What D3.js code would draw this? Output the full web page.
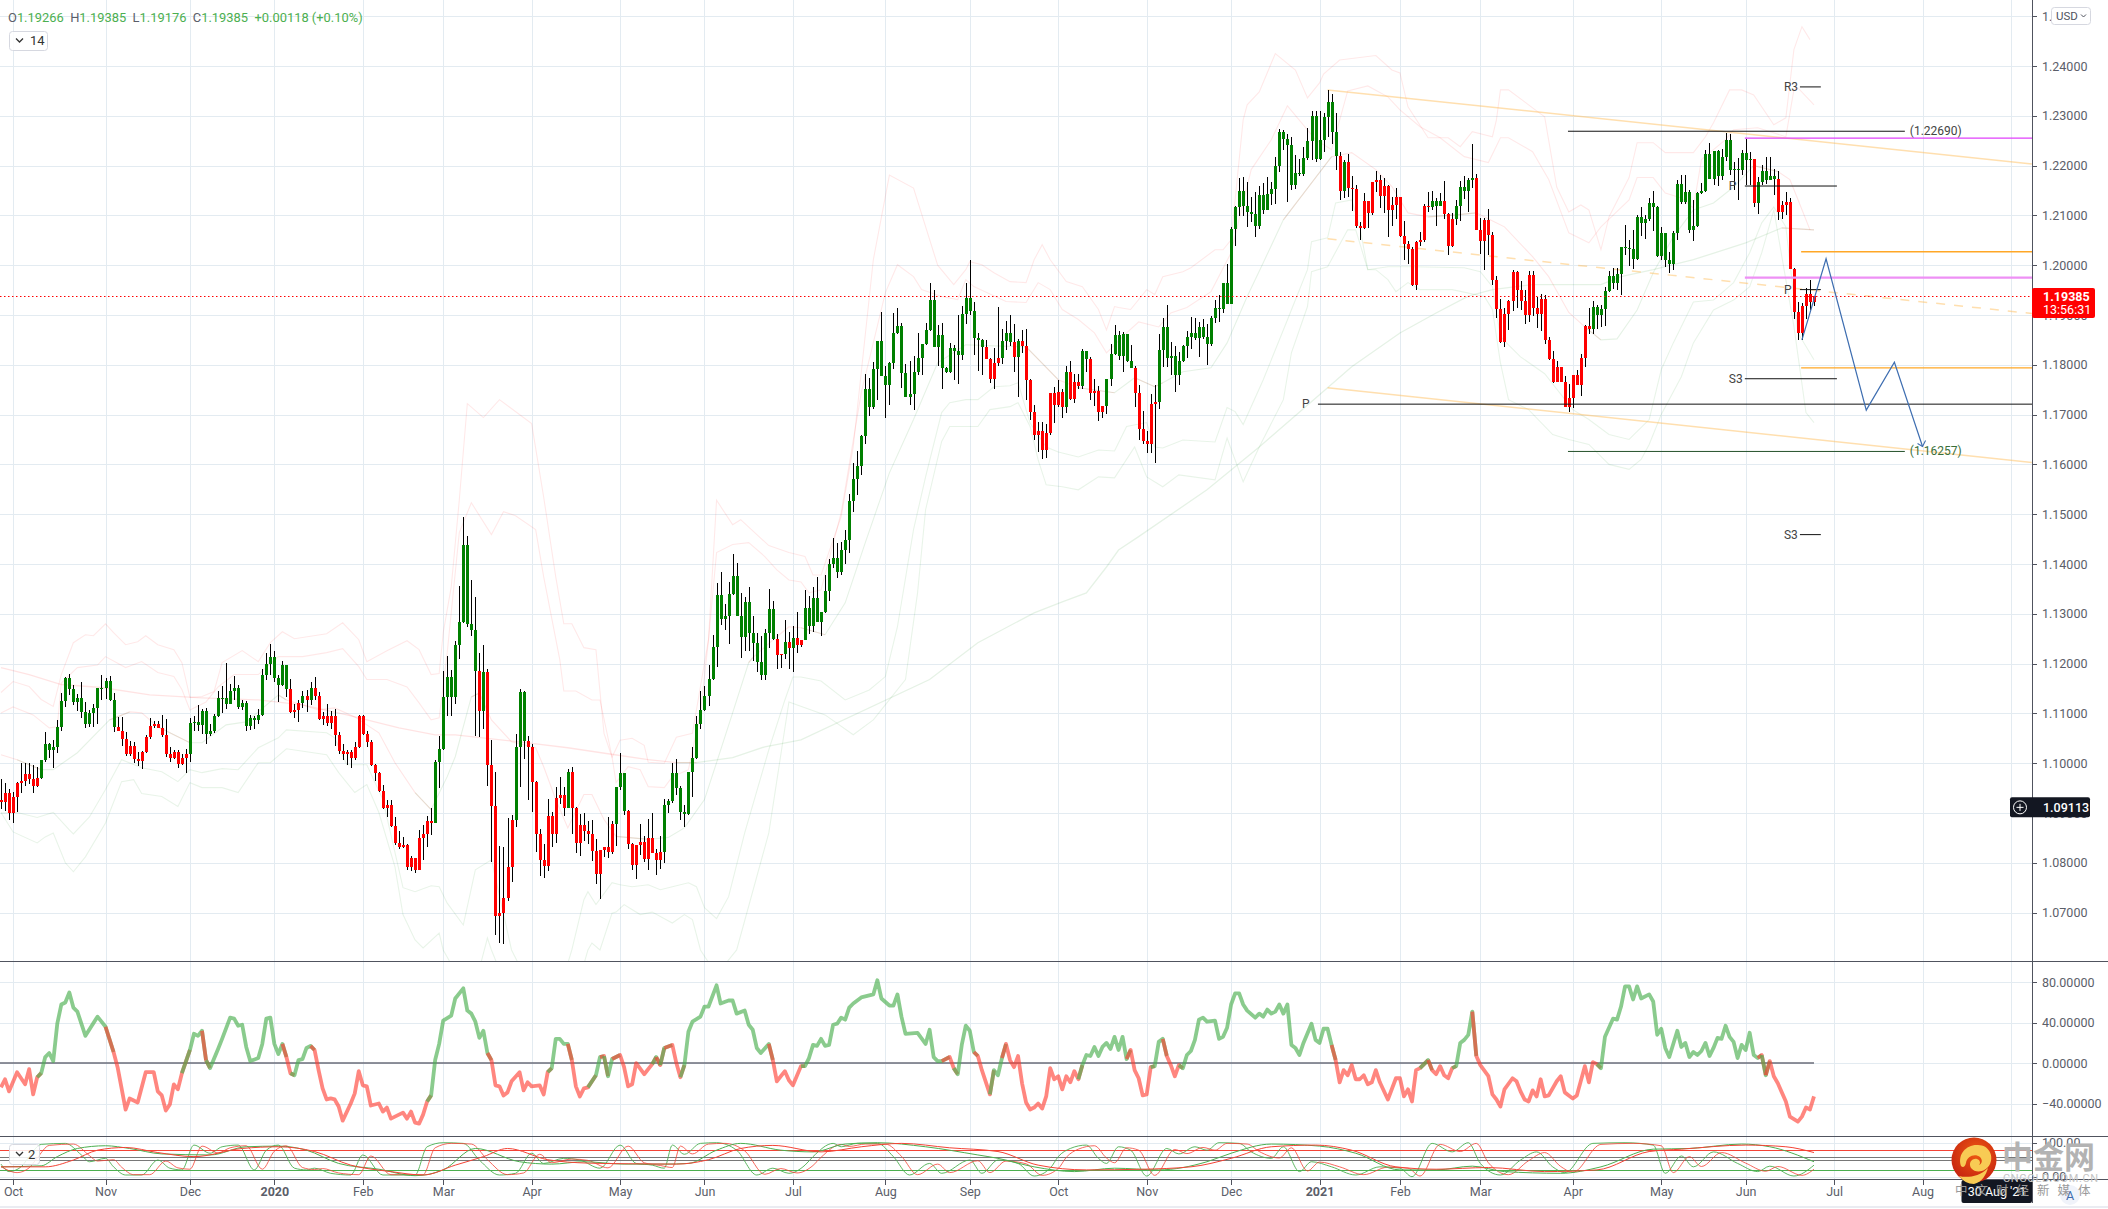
<!DOCTYPE html>
<html><head><meta charset="utf-8">
<script src="https://cdnjs.cloudflare.com/ajax/libs/d3/7.8.5/d3.min.js"></script>
<style>
html,body{margin:0;padding:0;background:#fff;overflow:hidden}
svg{display:block}
text{font-family:Roboto,"Liberation Sans",sans-serif}
</style></head><body><div id="chart"></div>
<script>
// Daily EUR/USD candles, prices in pips (1.0000 = 10000)
const closes=[10922,10941,10899,10933,10961,10965,10979,10969,10955,10971,
11006,11039,11027,11033,11073,11125,11171,11149,11123,11131,
11103,11079,11101,11111,11151,11151,11165,11127,11073,11065,
11049,11019,11035,11009,11005,11023,11053,11075,11079,11071,
11057,11019,11011,11023,10999,11011,11019,11081,11083,11077,
11105,11059,11065,11095,11131,11131,11119,11145,11151,11113,
11121,11075,11091,11087,11097,11177,11199,11213,11171,11157,
11197,11149,11103,11107,11121,11135,11127,11151,11135,11089,
11095,11081,11095,11057,11025,11019,11023,11011,11033,11095,
11059,11043,10997,10981,10945,10911,10917,10873,10839,10831,
10835,10791,10809,10785,10849,10857,10883,10880,11003,11029,
11133,11173,11133,11237,11283,11439,11279,11267,11185,11105,
11183,10997,10915,10693,10699,10729,10791,10885,11033,11143,
11045,11033,10963,10857,10805,10793,10893,10857,10931,10937,
10911,10983,10911,10839,10875,10863,10857,10823,10777,10825,
10831,10821,10877,10953,10981,10905,10837,10795,10835,10841,
10807,10849,10819,10805,10821,10917,10925,10981,10951,10903,
10897,10983,11011,11079,11107,11135,11169,11233,11337,11289,
11295,11339,11375,11295,11253,11323,11261,11241,11203,11177,
11261,11309,11249,11217,11219,11243,11231,11251,11237,11247,
11311,11275,11331,11283,11303,11345,11401,11413,11383,11429,
11449,11527,11571,11597,11657,11751,11715,11791,11847,11777,
11759,11803,11863,11877,11783,11735,11741,11785,11813,11841,
11869,11931,11835,11859,11793,11785,11833,11827,11819,11903,
11935,11909,11853,11849,11835,11811,11771,11803,11813,11847,
11863,11845,11815,11847,11837,11769,11705,11659,11667,11629,
11663,11743,11719,11745,11715,11785,11731,11765,11757,11827,
11811,11743,11747,11705,11717,11771,11821,11859,11817,11861,
11807,11793,11743,11671,11647,11641,11721,11725,11829,11875,
11813,11817,11779,11807,11837,11855,11863,11853,11875,11855,
11841,11893,11915,11913,11965,11923,12073,12117,12149,12119,
12107,12103,12079,12141,12111,12143,12153,12199,12267,12253,
12241,12161,12185,12183,12215,12249,12299,12213,12251,12297,
12327,12267,12219,12149,12207,12155,12153,12079,12075,12129,
12105,12167,12171,12139,12159,12111,12121,12137,12059,12043,
12033,11961,12047,12051,12119,12117,12129,12119,12129,12103,
12039,12093,12119,12157,12149,12171,12175,12071,12049,12091,
12061,11971,11913,11845,11903,11929,11987,11951,11929,11901,
11981,11915,11903,11933,11849,11811,11765,11795,11765,11715,
11733,11779,11759,11813,11877,11871,11917,11899,11913,11949,
11979,11965,11983,12037,12035,12033,12013,12097,12085,12093,
12125,12117,12019,12065,12011,12003,12065,12163,12127,12147,
12071,12079,12145,12149,12223,12173,12229,12179,12217,12251,
12191,12193,12191,12225,12211,12213,12125,12167,12189,12171,
12179,12173,12107,12121,12127,11993,11907,11863,11919,11943,
11926,11939];
const firstOpen=10926;
const highs=[10969,10960,10948,10943,10963,11000,11000,11000,10996,10993,
10991,11063,11040,11047,11087,11140,11173,11179,11157,11139,
11163,11123,11107,11119,11152,11177,11172,11175,11141,11093,
11093,11063,11045,11043,11023,11025,11057,11091,11085,11085,
11097,11089,11033,11027,11027,11019,11029,11091,11095,11117,
11109,11111,11079,11099,11145,11155,11201,11160,11175,11157,
11127,11125,11097,11095,11109,11189,11221,11239,11225,11177,
11205,11197,11169,11119,11127,11145,11147,11163,11173,11143,
11103,11119,11105,11109,11063,11039,11027,11027,11043,11097,
11097,11065,11047,10999,10983,10957,10927,10927,10891,10863,
10852,10837,10813,10809,10865,10875,10893,10911,11007,11055,
11185,11215,11187,11245,11355,11495,11457,11367,11333,11221,
11237,11189,11047,10983,10833,10832,10889,10895,11059,11149,
11145,11055,11039,10965,10867,10837,10929,10903,10953,10973,
10953,10989,10993,10913,10897,10899,10883,10885,10848,10825,
10831,10891,10883,10953,11021,10981,10907,10839,10835,10877,
10853,10887,10899,10827,10853,10928,10929,11001,11009,10955,
10917,10983,11033,11095,11145,11155,11197,11257,11361,11383,
11319,11363,11421,11403,11341,11333,11353,11295,11261,11255,
11269,11349,11325,11259,11219,11287,11263,11275,11303,11247,
11347,11335,11353,11373,11303,11377,11411,11453,11443,11445,
11469,11541,11603,11627,11659,11781,11773,11805,11847,11907,
11797,11805,11905,11915,11883,11801,11807,11817,11863,11841,
11883,11965,11951,11879,11883,11795,11843,11839,11901,11919,
11965,12011,11927,11863,11851,11849,11813,11833,11917,11871,
11887,11899,11881,11851,11869,11871,11771,11719,11685,11685,
11681,11743,11755,11769,11751,11797,11807,11781,11781,11831,
11827,11815,11771,11757,11717,11771,11841,11879,11867,11865,
11861,11839,11797,11759,11707,11667,11741,11759,11861,11893,
11921,11845,11837,11825,11839,11867,11895,11893,11885,11891,
11881,11897,11931,11941,11965,12003,12077,12119,12175,12177,
12167,12137,12147,12159,12165,12177,12167,12217,12273,12271,
12263,12257,12221,12213,12237,12275,12309,12309,12309,12305,
12351,12343,12305,12227,12211,12223,12179,12161,12087,12145,
12129,12167,12189,12181,12175,12161,12137,12155,12137,12089,
12049,12037,12049,12067,12123,12147,12149,12135,12145,12169,
12105,12105,12131,12169,12179,12175,12243,12183,12095,12095,
12113,12067,11979,11933,11915,11931,11991,11989,11969,11951,
11989,11989,11937,11943,11941,11855,11827,11807,11795,11777,
11761,11779,11789,11821,11879,11915,11929,11921,11921,11957,
11989,11995,11995,12037,12081,12051,12071,12101,12117,12101,
12135,12149,12119,12077,12065,12027,12069,12171,12181,12181,
12151,12131,12147,12165,12231,12245,12229,12231,12233,12265,
12263,12207,12215,12231,12254,12227,12213,12177,12201,12217,
12217,12193,12189,12129,12147,12135,11995,11927,11925,11955,
11971,11939];
const lows=[10908,10905,10885,10879,10903,10941,10955,10959,10941,10953,
10969,11002,11011,10991,11021,11065,11113,11137,11117,11105,
11091,11071,11072,11073,11079,11127,11128,11125,11063,11064,
11035,11015,11015,11001,10995,10989,11020,11049,11071,11071,
11053,11013,11003,11009,10991,10997,10981,11003,11065,11065,
11059,11039,11055,11061,11093,11101,11109,11119,11127,11109,
11107,11065,11067,11069,11079,11095,11167,11177,11163,11123,
11155,11133,11100,11091,11083,11111,11103,11117,11127,11087,
11077,11075,11069,11035,11019,11007,10997,10991,11007,11031,
11057,11033,10995,10965,10943,10909,10891,10871,10835,10827,
10830,10785,10783,10779,10785,10805,10831,10855,10879,10951,
11027,11095,11095,11119,11209,11281,11273,11255,11055,11053,
11069,10955,10801,10655,10639,10637,10723,10761,10871,10953,
11009,10927,10903,10821,10773,10769,10783,10831,10840,10919,
10893,10911,10857,10819,10813,10843,10837,10803,10757,10727,
10811,10809,10817,10833,10947,10895,10827,10785,10767,10815,
10801,10785,10819,10775,10787,10799,10901,10920,10937,10885,
10871,10895,10933,11009,11069,11105,11115,11167,11193,11277,
11267,11239,11337,11295,11211,11225,11225,11205,11183,11167,
11167,11231,11247,11189,11191,11209,11189,11183,11221,11233,
11247,11259,11263,11283,11255,11301,11325,11391,11371,11377,
11401,11423,11505,11539,11579,11641,11697,11711,11729,11777,
11693,11719,11791,11861,11753,11735,11720,11709,11779,11779,
11839,11867,11835,11798,11751,11783,11783,11769,11761,11809,
11881,11899,11819,11787,11779,11811,11763,11751,11797,11801,
11829,11837,11785,11735,11823,11729,11689,11649,11625,11611,
11613,11659,11683,11715,11693,11703,11729,11723,11752,11751,
11785,11729,11717,11687,11693,11701,11757,11819,11809,11785,
11805,11793,11715,11649,11641,11623,11623,11603,11711,11795,
11795,11779,11745,11759,11805,11813,11831,11849,11815,11851,
11800,11837,11883,11885,11905,11923,11923,12039,12099,12099,
12077,12087,12057,12073,12103,12110,12121,12123,12187,12231,
12127,12151,12153,12180,12179,12211,12211,12207,12211,12227,
12257,12243,12191,12131,12135,12137,12109,12075,12051,12073,
12075,12101,12147,12115,12105,12057,12079,12093,12057,12011,
12003,11959,11951,12039,12047,12107,12111,12079,12119,12093,
12021,12037,12081,12089,12133,12107,12155,12071,12023,11991,
12021,11961,11893,11843,11835,11869,11909,11915,11911,11881,
11885,11897,11873,11867,11841,11809,11763,11765,11765,11715,
11705,11713,11759,11737,11795,11861,11861,11871,11875,11877,
11947,11953,11951,11941,12021,11999,11993,12011,12059,12053,
12089,12069,12017,12011,11997,11985,11991,12051,12123,12123,
12065,12049,12077,12143,12147,12173,12161,12159,12171,12209,
12181,12151,12131,12181,12161,12161,12117,12103,12161,12163,
12171,12141,12091,12093,12101,11993,11891,11849,11849,11892,
11911,11918];
// bar index where the candle colour flips; first run is red
const candleFlips=[10,29,47,72,75,76,77,78,108,119,120,121,128,131,141,142,153,156,165,193,195,196,197,198,200,245,249,252,253,254,265,266,269,271,275,282,288,333,334,335,356,359,362,367,396,436,437,442];

// Envelope knots: [bar, price in pips]
const upperOuter=[[0,11142],[3,11164],[7,11154],[10,11128],[13,11114],[15,11178],[18,11242],[21,11258],[23,11256],[26,11280],[28,11262],[31,11238],[34,11244],[36,11256],[39,11238],[43,11228],[45,11202],[47,11132],[50,11134],[53,11144],[55,11202],[60,11226],[64,11204],[67,11242],[70,11264],[73,11250],[81,11260],[85,11282],[89,11248],[91,11204],[96,11226],[101,11246],[104,11228],[107,11178],[109,11180],[110,11262],[112,11354],[114,11528],[116,11722],[120,11694],[124,11730],[132,11682],[135,11534],[138,11374],[140,11280],[142,11280],[145,11232],[148,11228],[150,11060],[152,11012],[154,11046],[157,11050],[160,11036],[161,11002],[165,11000],[168,11052],[172,11060],[176,11248],[178,11528],[182,11479],[184,11489],[191,11437],[196,11423],[200,11415],[202,11378],[204,11378],[209,11495],[212,11635],[217,12011],[221,12181],[227,12155],[233,12000],[237,11961],[240,11991],[241,12007],[244,12001],[247,11985],[251,11967],[255,11965],[257,12011],[259,12041],[261,12011],[265,11967],[269,11957],[273,11911],[275,11870],[277,11917],[278,11915],[281,11911],[285,11951],[287,11941],[289,11977],[294,11987],[296,11995],[302,12031],[304,12031],[306,12051],[309,12292],[310,12322],[313,12348],[317,12425],[322,12392],[325,12336],[328,12366],[329,12384],[333,12412],[342,12421],[346,12392],[348,12386],[350,12318],[355,12256],[360,12256],[363,12238],[366,12268],[371,12258],[372,12292],[373,12352],[375,12352],[381,12316],[384,12298],[387,12157],[390,12107],[393,12121],[395,12111],[398,12031],[400,12097],[405,12176],[407,12246],[411,12246],[414,12226],[421,12226],[424,12258],[426,12286],[430,12352],[433,12352],[436,12342],[441,12282],[444,12296],[446,12433],[448,12479],[450,12453]];
const upperInner=[[0,11101],[3,11113],[8,11097],[12,11071],[14,11073],[15,11161],[19,11192],[24,11197],[26,11214],[31,11192],[35,11204],[39,11182],[43,11174],[45,11148],[47,11107],[51,11123],[54,11153],[58,11178],[64,11178],[69,11214],[75,11214],[81,11222],[85,11230],[89,11194],[91,11168],[96,11168],[101,11153],[104,11121],[107,11087],[109,11091],[111,11222],[114,11463],[117,11523],[122,11459],[125,11505],[128,11497],[133,11469],[135,11374],[139,11208],[140,11145],[143,11145],[147,11127],[149,11127],[152,11013],[153,10961],[156,10993],[159,10987],[161,10953],[165,10951],[167,10973],[171,10987],[174,11101],[176,11248],[178,11423],[182,11439],[186,11443],[190,11415],[193,11388],[196,11368],[199,11364],[201,11342],[204,11348],[209,11503],[214,11744],[220,11945],[223,12001],[227,11977],[229,11951],[234,11937],[238,11931],[240,11971],[242,11957],[250,11927],[255,11925],[258,11965],[261,11951],[264,11911],[268,11891],[272,11864],[275,11824],[280,11864],[283,11886],[288,11876],[291,11904],[295,11915],[301,11947],[306,12025],[311,12192],[316,12252],[320,12320],[327,12252],[331,12232],[335,12350],[340,12360],[345,12338],[348,12312],[353,12278],[358,12256],[364,12218],[370,12206],[373,12256],[375,12256],[381,12228],[385,12172],[390,12065],[395,12045],[398,12077],[405,12131],[407,12176],[411,12176],[414,12145],[418,12135],[421,12115],[423,12212],[429,12252],[431,12272],[437,12276],[444,12258],[446,12352],[447,12356],[451,12322]];
const basisLine=[[0,11017],[4,11007],[10,10987],[13,10987],[19,11021],[27,11087],[32,11103],[35,11101],[39,11073],[47,11041],[50,11041],[56,11077],[61,11083],[69,11137],[71,11127],[79,11107],[83,11111],[88,11093],[94,11061],[98,11001],[103,10941],[107,10907],[111,10973],[113,11013],[117,11133],[119,11141],[122,11087],[127,11043],[133,11031],[135,10993],[138,10927],[141,10870],[145,10937],[147,10937],[150,10887],[153,10853],[161,10847],[166,10851],[170,10870],[175,10927],[178,11001],[182,11101],[186,11202],[187,11212],[193,11254],[196,11274],[199,11272],[205,11258],[210,11322],[215,11443],[221,11583],[227,11690],[233,11804],[240,11840],[255,11836],[263,11770],[268,11754],[277,11744],[282,11774],[287,11756],[289,11764],[294,11786],[301,11794],[305,11844],[310,11937],[314,12005],[319,12091],[331,12218],[336,12226],[342,12192],[346,12158],[350,12105],[355,12097],[362,12101],[367,12105],[374,12077],[381,12017],[385,11977],[390,11905],[394,11876],[398,11850],[402,11852],[407,11910],[411,11985],[416,12057],[421,12111],[426,12125],[431,12157],[436,12200],[442,12188],[445,12172],[447,12132],[450,12071]];
const basisFlips=[10,32,47,71,107,119,161,187,205,263,277,287,289,331,362,367,398,441];
const lowerInner=[[0,10900],[4,10901],[9,10891],[13,10901],[17,10866],[18,10858],[22,10892],[26,10947],[30,11007],[35,10991],[40,10983],[44,10963],[47,10987],[50,10981],[55,10989],[59,10987],[64,11031],[69,11051],[71,11067],[81,11061],[83,11051],[86,10997],[91,10997],[95,10927],[100,10750],[103,10742],[107,10754],[109,10752],[111,10719],[115,10675],[118,10786],[122,10806],[127,10625],[132,10545],[139,10545],[142,10625],[145,10726],[146,10742],[148,10716],[152,10760],[154,10756],[157,10752],[161,10756],[164,10746],[167,10752],[171,10760],[173,10752],[175,10710],[178,10688],[181,10732],[185,10860],[191,11027],[195,11127],[197,11173],[199,11173],[204,11165],[210,11127],[216,11147],[220,11174],[223,11274],[227,11469],[230,11575],[234,11704],[236,11724],[240,11730],[243,11730],[247,11756],[251,11758],[253,11764],[256,11683],[260,11635],[263,11625],[268,11615],[273,11629],[277,11627],[280,11676],[285,11684],[287,11635],[289,11633],[294,11649],[302,11645],[305,11714],[307,11706],[309,11680],[314,11770],[320,11890],[325,11991],[326,12047],[330,12055],[332,12125],[336,12131],[338,12077],[340,11991],[345,11997],[351,11997],[364,11995],[368,11987],[371,11957],[373,11857],[375,11840],[378,11816],[384,11782],[391,11710],[395,11690],[400,11660],[405,11650],[410,11690],[413,11790],[416,11844],[421,11926],[426,11930],[431,11965],[435,12025],[438,12085],[441,12117],[444,12077],[447,11864],[451,11810]];
const lowerOuter=[[0,10901],[3,10862],[9,10840],[11,10852],[13,10860],[16,10800],[18,10782],[21,10812],[26,10880],[30,10963],[33,10967],[35,10939],[40,10933],[44,10913],[47,10961],[50,10951],[55,10951],[59,10941],[64,11001],[67,11001],[71,11029],[81,11017],[84,10981],[88,10941],[91,10957],[94,10901],[98,10792],[100,10696],[103,10645],[105,10629],[109,10659],[110,10625],[117,10525],[121,10649],[122,10625],[132,10425],[139,10425],[146,10625],[147,10639],[149,10625],[152,10699],[153,10701],[155,10716],[159,10696],[162,10701],[167,10679],[170,10696],[172,10686],[174,10625],[178,10575],[183,10625],[191,10860],[196,11123],[205,11097],[212,11057],[217,11087],[225,11168],[228,11342],[230,11509],[234,11646],[236,11676],[243,11676],[246,11710],[251,11716],[253,11724],[256,11676],[258,11609],[260,11559],[264,11555],[268,11549],[273,11575],[277,11573],[282,11635],[285,11575],[289,11555],[293,11579],[302,11569],[305,11653],[309,11565],[313,11635],[319,11730],[321,11824],[325,11917],[326,11987],[330,11997],[335,12071],[337,12071],[340,11991],[342,11991],[345,11971],[347,11947],[350,11965],[353,11951],[361,11951],[369,11937],[371,11911],[373,11804],[375,11730],[380,11710],[386,11660],[390,11650],[395,11640],[400,11600],[405,11590],[408,11610],[410,11640],[413,11700],[418,11776],[421,11844],[426,11910],[431,11930],[435,11957],[438,12025],[441,12111],[446,11877],[449,11704],[451,11684]];
const longAverage=[[0,11192],[7,11178],[15,11158],[25,11152],[37,11137],[50,11131],[64,11127],[75,11117],[86,11097],[99,11071],[108,11057],[113,11057],[131,11041],[141,11031],[151,11019],[161,11007],[168,11001],[173,11001],[182,11011],[190,11033],[199,11047],[231,11168],[243,11242],[257,11302],[264,11324],[270,11342],[275,11394],[278,11428],[283,11455],[300,11549],[313,11635],[330,11754],[336,11796],[348,11864],[357,11904],[365,11938],[371,11951],[381,11961],[398,11961],[403,11977],[411,11991],[421,12011],[434,12045],[443,12075],[451,12071]];
const longFlips=[170,446];

// Oscillator panel (thick line): [bar, value]
const cci=[[0,-24],[1,-16],[2,-28],[4,-9],[6,-21],[7,-6],[8,-31],[9,-14],[10,-10],[11,6],[12,10],[13,2],[14,39],[15,58],[16,60],[17,70],[18,55],[19,51],[21,27],[24,46],[25,41],[26,36],[28,11],[29,-4],[31,-46],[32,-35],[34,-39],[36,-9],[38,-9],[39,-28],[40,-32],[41,-47],[42,-41],[43,-21],[44,-26],[45,-10],[47,13],[48,29],[49,27],[50,32],[51,3],[52,-5],[54,14],[55,24],[57,45],[58,44],[59,37],[60,38],[61,16],[62,2],[64,5],[65,19],[66,44],[67,45],[68,19],[69,9],[70,19],[71,6],[72,-10],[73,-12],[74,3],[75,4],[76,15],[77,17],[78,13],[79,-7],[80,-25],[81,-36],[82,-35],[83,-36],[84,-43],[85,-57],[87,-40],[88,-30],[89,-8],[90,-22],[91,-23],[92,-42],[93,-41],[94,-40],[95,-48],[96,-44],[97,-55],[98,-53],[100,-49],[101,-55],[102,-48],[103,-59],[104,-60],[105,-51],[106,-38],[107,-32],[108,3],[109,19],[110,42],[112,47],[113,64],[115,74],[116,52],[117,49],[118,41],[119,25],[120,32],[121,10],[122,3],[123,-22],[124,-23],[125,-32],[126,-29],[127,-18],[129,-9],[130,-27],[131,-19],[132,-23],[134,-22],[135,-31],[136,-9],[137,-5],[138,24],[139,24],[140,19],[141,19],[142,3],[143,-23],[144,-33],[145,-25],[146,-24],[148,-12],[149,6],[150,7],[151,-13],[152,4],[154,8],[155,-4],[156,-23],[157,-21],[158,0],[160,-11],[162,-1],[163,6],[164,-2],[165,15],[167,18],[168,0],[169,-14],[170,-2],[171,31],[172,41],[174,46],[175,56],[176,56],[178,77],[179,59],[181,62],[182,62],[183,49],[185,52],[186,38],[187,33],[188,15],[189,10],[191,19],[192,3],[193,-18],[195,-8],[196,-17],[197,-22],[199,-3],[200,-3],[201,5],[202,18],[203,17],[204,24],[205,17],[206,18],[207,38],[208,39],[209,45],[210,43],[211,55],[212,59],[214,65],[217,68],[218,82],[219,64],[221,57],[222,57],[223,68],[224,46],[225,29],[228,30],[230,19],[231,33],[232,6],[233,2],[234,2],[236,6],[237,-5],[238,-11],[239,18],[240,37],[241,32],[242,11],[243,7],[244,-7],[246,-31],[247,-7],[248,-12],[249,5],[250,19],[251,3],[252,-4],[253,7],[254,-20],[255,-39],[256,-46],[257,-44],[258,-40],[259,-45],[260,-33],[261,-5],[262,-16],[263,-13],[264,-26],[265,-13],[266,-19],[267,-8],[268,-16],[269,-2],[270,8],[271,7],[272,16],[273,7],[274,16],[275,20],[276,14],[277,26],[278,13],[279,26],[280,4],[281,13],[282,-7],[283,-15],[284,-32],[285,-31],[286,-4],[287,-3],[288,21],[289,24],[290,7],[291,-2],[292,-13],[293,-2],[294,-5],[295,8],[296,12],[297,23],[298,43],[299,45],[300,41],[302,42],[303,24],[304,26],[305,35],[306,58],[307,69],[308,69],[309,58],[310,52],[312,45],[313,49],[314,46],[315,53],[316,49],[317,51],[318,58],[319,49],[320,58],[321,18],[322,15],[323,8],[324,20],[326,39],[327,23],[328,20],[329,34],[330,34],[331,18],[332,3],[333,-19],[334,-7],[335,-12],[336,-2],[337,-16],[338,-16],[339,-12],[340,-21],[341,-19],[342,-7],[343,-19],[345,-36],[347,-15],[348,-15],[349,-33],[350,-26],[351,-38],[352,-7],[353,-5],[355,3],[356,-7],[357,-11],[358,-3],[359,-12],[360,-15],[361,-5],[362,-3],[363,20],[364,23],[365,28],[366,51],[367,7],[368,-2],[370,-13],[371,-31],[372,-36],[373,-43],[374,-26],[376,-15],[377,-18],[378,-28],[379,-36],[380,-38],[381,-27],[382,-33],[383,-16],[384,-33],[385,-32],[387,-18],[388,-13],[389,-29],[390,-32],[391,-35],[392,-32],[394,-3],[395,-19],[396,1],[397,-1],[398,-5],[399,26],[401,44],[402,43],[403,56],[404,76],[405,76],[406,63],[407,76],[408,64],[410,68],[411,61],[412,28],[413,34],[414,15],[415,6],[417,32],[418,16],[419,20],[420,6],[421,11],[422,8],[423,12],[424,20],[425,7],[426,15],[427,25],[428,24],[429,37],[430,26],[431,21],[432,5],[433,18],[434,13],[435,30],[436,8],[437,5],[438,8],[439,-12],[440,2],[441,-13],[442,-20],[444,-38],[445,-53],[447,-58],[448,-53],[449,-44],[450,-46],[451,-33]];
const cciFlips=[10,28,46,51,52,71,73,78,107,122,137,142,148,150,151,154,163,164,165,167,170,192,200,236,238,243,247,250,269,281,287,290,294,332,355,356,362,367,398,438,439,440];

// Stochastic panel: [bar, value]
const fastGreen=[[0,37],[2,15],[5,29],[7,59],[10,95],[16,98],[20,64],[22,44],[26,54],[28,29],[31,5],[35,5],[39,49],[42,25],[45,20],[48,93],[52,69],[55,88],[59,93],[63,20],[66,78],[69,93],[73,25],[76,20],[78,25],[82,10],[87,5],[90,64],[95,5],[103,5],[106,88],[110,100],[115,98],[119,49],[124,5],[128,10],[132,69],[135,39],[140,54],[144,49],[149,25],[154,93],[158,39],[162,34],[165,25],[167,93],[170,66],[174,98],[178,100],[183,78],[188,5],[192,25],[196,10],[200,34],[202,59],[207,98],[209,88],[213,98],[218,98],[222,59],[226,5],[231,39],[234,10],[241,49],[244,10],[248,49],[253,39],[257,2],[261,25],[263,59],[266,83],[270,93],[273,54],[275,39],[278,88],[281,78],[285,2],[290,83],[293,67],[297,88],[300,78],[303,100],[308,98],[311,73],[316,54],[319,88],[323,15],[326,44],[331,29],[337,5],[343,29],[348,25],[351,0],[356,98],[361,73],[365,100],[368,39],[373,5],[378,49],[382,73],[386,29],[389,12],[396,98],[404,100],[411,93],[414,10],[418,61],[421,29],[426,73],[432,39],[437,15],[440,31],[446,2],[451,34]];
const fastRed=[[0,30],[4,12],[7,26],[9,55],[12,92],[18,96],[22,62],[24,46],[28,50],[30,28],[33,6],[37,6],[41,46],[44,26],[47,22],[50,90],[54,70],[57,85],[61,91],[65,22],[68,75],[71,91],[75,27],[78,21],[80,24],[84,11],[89,6],[92,61],[97,6],[105,6],[108,85],[112,98],[117,96],[121,50],[126,6],[130,11],[134,66],[137,41],[142,52],[146,48],[151,26],[156,90],[160,41],[164,33],[167,27],[169,90],[172,67],[176,96],[180,98],[185,76],[190,7],[194,24],[198,11],[202,33],[204,57],[209,95],[211,89],[215,96],[220,96],[224,60],[228,6],[233,37],[236,12],[243,47],[246,12],[250,46],[255,38],[259,4],[263,24],[265,57],[268,81],[272,91],[275,55],[277,41],[280,85],[283,78],[287,4],[292,80],[295,68],[299,86],[302,78],[305,98],[310,96],[313,74],[318,55],[321,85],[325,17],[328,43],[333,29],[339,6],[345,28],[350,25],[353,2],[358,95],[363,74],[367,98],[370,41],[375,6],[380,47],[384,71],[388,30],[391,13],[398,95],[406,98],[413,91],[416,12],[420,59],[423,30],[428,71],[434,40],[439,16],[442,30],[448,4],[451,22]];
const slowGreen=[[0,29],[10,32],[14,59],[19,83],[26,91],[32,83],[40,67],[52,64],[61,88],[69,90],[76,78],[84,39],[94,22],[103,3],[110,20],[118,83],[129,44],[137,37],[145,44],[155,37],[165,37],[171,39],[178,78],[184,98],[194,78],[202,73],[210,96],[218,100],[230,88],[243,64],[248,54],[257,29],[267,15],[277,25],[288,20],[300,44],[306,69],[316,96],[328,90],[337,69],[348,20],[357,20],[366,31],[374,15],[388,10],[398,29],[411,81],[420,83],[433,96],[440,88],[451,44]];
const slowRed=[[0,29],[11,29],[18,49],[24,78],[31,86],[39,71],[48,59],[60,83],[69,88],[78,74],[87,34],[97,15],[105,5],[113,34],[120,59],[126,83],[136,50],[146,40],[156,38],[168,37],[176,50],[184,83],[192,92],[204,73],[214,88],[224,98],[236,85],[248,74],[258,34],[270,20],[284,22],[296,29],[306,54],[316,88],[327,93],[336,78],[347,29],[357,22],[370,27],[384,15],[397,20],[410,74],[418,81],[434,93],[444,88],[451,71]];
const stochLevels=[{v:80,c:"#f44336"},{v:57,c:"#787878"},{v:50,c:"#787878"},{v:20,c:"#4caf50"}];

// Time axis
const tickBars=[3,26,47,68,90,110,132,154,175,197,220,241,263,285,306,328,348,368,391,413,434,456,478,500];
const tickLabels=["Oct","Nov","Dec","2020","Feb","Mar","Apr","May","Jun","Jul","Aug","Sep","Oct","Nov","Dec","2021","Feb","Mar","Apr","May","Jun","Jul","Aug","Sep"];
const boldTicks=["2020","2021"];
const priceTicks=[10700,10800,10900,11000,11100,11200,11300,11400,11500,11600,11700,11800,11900,12000,12100,12200,12300,12400,12500];
const cciTicks=[80,40,0,-40];
const stochTicks=[100,0];

// Drawing objects: [bar, pips]
const lastPrice=11938.5, crossPrice=10911.3;
const resistTop={from:389.8,to:473.6,price:12269,label:"(1.22690)",color:"#111",text:"#444"};
const supportLow={from:389.8,to:473.6,price:11626,label:"(1.16257)",color:"#24502a",text:"#3a6f3a"};
const fullLines=[{from:433.8,price:12255,color:"#e040fb",w:1.3},{from:433.8,price:11975,color:"#ee90f5",w:2.2},{from:447.8,price:12027,color:"#ffa726",w:1.3},{from:447.8,price:11794,color:"#ffa726",w:1.3},{from:327.6,price:11721,color:"#111",w:1}];
const pivotLines=[{from:433.8,to:456.7,price:12159,label:"P"},{from:433.8,to:456.7,price:11772,label:"S3"},{from:447.5,to:452.7,price:12358,label:"R3"},{from:447.5,to:452.7,price:11951,label:"P"},{from:447.5,to:452.7,price:11459,label:"S3"}];
const pivotLabelLeft=[{price:11721,bar:327.6,label:"P"}];
const trendLines=[{a:[330,12352],b:[505.2,12203],dash:null},{a:[330,11754],b:[505.2,11604],dash:null},{a:[330,12053],b:[505.2,11903],dash:"9 9"}];
const projection=[[448,11850],[454,12013],[464,11709],[471,11805],[478,11636]];

const W=2108,H=1209,axisX=2032,mainB=962,oscB=1137,stochB=1180;
const x=d3.scaleLinear().domain([0,451]).range([1,1814]);
const y=d3.scaleLinear().domain([10700,12400]).range([912.6,66]);
const yc=d3.scaleLinear().domain([-40,80]).range([1103.5,982.3]);
const ys=d3.scaleLinear().domain([0,100]).range([1176.7,1142.7]);
const fmt=v=>(v/10000).toFixed(5);

const opens=[firstOpen].concat(closes.slice(0,-1));
const candleIsGreen=i=>d3.bisectRight(candleFlips,i)%2===1;

const GRID="#e3ebf1",AX="#50535e",TXT="#5b5e69";
const svg=d3.select("#chart").append("svg").attr("width",W).attr("height",H);
const defs=svg.append("defs");
defs.append("clipPath").attr("id","mainClip").append("rect").attr("x",0).attr("y",0).attr("width",axisX).attr("height",mainB);
const lg=defs.append("radialGradient").attr("id","logoG").attr("cx","55%").attr("cy","35%").attr("r","70%");
lg.append("stop").attr("offset","0%").attr("stop-color","#ee5a12");
lg.append("stop").attr("offset","100%").attr("stop-color","#c31f10");

// grid
const grid=svg.append("g").attr("shape-rendering","crispEdges").attr("stroke",GRID);
grid.selectAll(".v").data(tickBars).join("line").attr("class","v").attr("x1",d=>Math.round(x(d))+.5).attr("x2",d=>Math.round(x(d))+.5).attr("y1",0).attr("y2",stochB);
grid.selectAll(".h").data(priceTicks).join("line").attr("class","h").attr("x1",0).attr("x2",axisX).attr("y1",d=>Math.round(y(d))+.5).attr("y2",d=>Math.round(y(d))+.5);
grid.selectAll(".c").data(cciTicks).join("line").attr("class","c").attr("x1",0).attr("x2",axisX).attr("y1",d=>Math.round(yc(d))+.5).attr("y2",d=>Math.round(yc(d))+.5);
grid.selectAll(".s").data(stochTicks).join("line").attr("class","s").attr("x1",0).attr("x2",axisX).attr("y1",d=>Math.round(ys(d))+.5).attr("y2",d=>Math.round(ys(d))+.5);

// helper: split knots into coloured runs
function runs(knots,flips){
  const out=[];let cur=null;
  knots.forEach(k=>{
    const g=d3.bisectRight(flips,k[0])%2===1;
    if(!cur||cur.g!==g){
      const prev=cur?cur.pts[cur.pts.length-1]:null;
      if(cur)cur.pts.push(k);
      cur={g,pts:prev?[prev,k]:[k]};
      out.push(cur);
    } else cur.pts.push(k);
  });
  return out;
}
const main=svg.append("g").attr("clip-path","url(#mainClip)");
const lineP=d3.line().x(d=>x(d[0])).y(d=>y(d[1]));
const pale=main.append("g").attr("fill","none").attr("stroke-width",1.1);
pale.append("path").datum(upperOuter).attr("d",lineP).attr("stroke","rgba(255,0,0,.09)");
pale.append("path").datum(upperInner).attr("d",lineP).attr("stroke","rgba(255,0,0,.09)");
pale.append("path").datum(lowerInner).attr("d",lineP).attr("stroke","rgba(0,128,0,.09)");
pale.append("path").datum(lowerOuter).attr("d",lineP).attr("stroke","rgba(0,128,0,.09)");
pale.selectAll(".b").data(runs(basisLine,basisFlips)).join("path").attr("class","b").attr("d",d=>lineP(d.pts)).attr("stroke",d=>d.g?"rgba(0,128,0,.1)":"rgba(255,0,0,.1)");
// long average: red runs before the first flip and after the last
pale.selectAll(".m").data(runs(longAverage,longFlips)).join("path").attr("class","m").attr("d",d=>lineP(d.pts)).attr("stroke-width",1.3)
 .attr("stroke",d=>d.g?"rgba(0,128,0,.1)":"rgba(255,0,0,.11)");

// trend lines
main.selectAll(".tl").data(trendLines).join("line").attr("class","tl")
 .attr("x1",d=>x(d.a[0])).attr("y1",d=>y(d.a[1])).attr("x2",d=>x(d.b[0])).attr("y2",d=>y(d.b[1]))
 .attr("stroke","rgba(255,183,77,.45)").attr("stroke-width",1.5).attr("stroke-dasharray",d=>d.dash);

// candles
const cand=main.append("g").attr("shape-rendering","crispEdges");
const idx=d3.range(closes.length);
const px=i=>Math.round(x(i));
cand.selectAll(".w").data(idx).join("line").attr("class","w").attr("x1",i=>px(i)+.5).attr("x2",i=>px(i)+.5)
 .attr("y1",i=>y(highs[i])).attr("y2",i=>y(lows[i])).attr("stroke","#000");
cand.selectAll(".bd").data(idx).join("rect").attr("class","bd").attr("x",i=>px(i)-1).attr("width",3)
 .attr("y",i=>Math.min(y(opens[i]),y(closes[i])))
 .attr("height",i=>Math.max(1,Math.abs(y(opens[i])-y(closes[i]))))
 .attr("fill",i=>candleIsGreen(i)?"#008000":"#ff0000");

// last price dotted
main.append("line").attr("x1",0).attr("x2",axisX).attr("y1",Math.round(y(lastPrice))+.5).attr("y2",Math.round(y(lastPrice))+.5)
 .attr("stroke","#ff0000").attr("stroke-width",1).attr("stroke-dasharray","1.5 2.5");

// horizontal drawings
[resistTop,supportLow].forEach(d=>{
  main.append("line").attr("x1",x(d.from)).attr("x2",x(d.to)).attr("y1",y(d.price)).attr("y2",y(d.price)).attr("stroke",d.color).attr("stroke-width",1);
  main.append("text").attr("x",x(d.to)+5).attr("y",y(d.price)+4).attr("font-size",12).attr("fill",d.text).text(d.label);
});
main.selectAll(".fl").data(fullLines).join("line").attr("class","fl").attr("x1",d=>x(d.from)).attr("x2",axisX)
 .attr("y1",d=>y(d.price)).attr("y2",d=>y(d.price)).attr("stroke",d=>d.color).attr("stroke-width",d=>d.w);
main.selectAll(".pv").data(pivotLines).join("line").attr("class","pv").attr("x1",d=>x(d.from)).attr("x2",d=>x(d.to))
 .attr("y1",d=>y(d.price)).attr("y2",d=>y(d.price)).attr("stroke","#111").attr("stroke-width",1);
main.selectAll(".pvt").data(pivotLines).join("text").attr("class","pvt").attr("x",d=>x(d.from)-16).attr("y",d=>y(d.price)+4)
 .attr("font-size",12).attr("fill","#444").text(d=>d.label);
main.selectAll(".pl").data(pivotLabelLeft).join("text").attr("class","pl").attr("x",d=>x(d.bar)-16).attr("y",d=>y(d.price)+4)
 .attr("font-size",12).attr("fill","#444").text(d=>d.label);

// projection
main.append("path").datum(projection).attr("d",lineP).attr("fill","none").attr("stroke","#3d6db0").attr("stroke-width",1.2);
const tip=projection[projection.length-1],tx=x(tip[0]),ty=y(tip[1]);
main.append("path").attr("d",`M${tx-5} ${ty-3}L${tx} ${ty}L${tx+3} ${ty-6}`).attr("fill","none").attr("stroke","#3d6db0").attr("stroke-width",1.1);

// oscillator
const lineC=d3.line().x(d=>x(d[0])).y(d=>yc(d[1]));
svg.append("line").attr("x1",0).attr("x2",x(451)).attr("y1",yc(0)).attr("y2",yc(0)).attr("stroke","#6a6d78").attr("stroke-width",1.5);
svg.append("g").selectAll("path").data(runs(cci,cciFlips)).join("path").attr("d",d=>lineC(d.pts))
 .attr("fill","none").attr("stroke-width",3.8).attr("stroke-linejoin","round")
 .attr("stroke",d=>d.g?"#4caf50":"#ff3b30").attr("stroke-opacity",d=>d.g?.65:.62);

// stochastic
const lineS=d3.line().x(d=>x(d[0])).y(d=>ys(d[1])).curve(d3.curveMonotoneX);
svg.append("g").attr("shape-rendering","crispEdges").selectAll("line").data(stochLevels).join("line")
 .attr("x1",0).attr("x2",axisX).attr("y1",d=>Math.round(ys(d.v))+.5).attr("y2",d=>Math.round(ys(d.v))+.5).attr("stroke",d=>d.c);
const st=svg.append("g").attr("fill","none");
st.append("path").datum(fastGreen).attr("d",lineS).attr("stroke","#4caf50").attr("stroke-width",.9);
st.append("path").datum(fastRed).attr("d",lineS).attr("stroke","#f44336").attr("stroke-width",.8);
st.append("path").datum(slowGreen).attr("d",lineS).attr("stroke","#4caf50").attr("stroke-width",1);
st.append("path").datum(slowRed).attr("d",lineS).attr("stroke","#f44336").attr("stroke-width",1);

// panel frames
const frame=svg.append("g").attr("stroke",AX).attr("shape-rendering","crispEdges");
[mainB,oscB,stochB].forEach(v=>frame.append("line").attr("x1",0).attr("x2",W).attr("y1",v-.5).attr("y2",v-.5));
frame.append("line").attr("x1",axisX+.5).attr("x2",axisX+.5).attr("y1",0).attr("y2",H-6);
svg.append("line").attr("x1",0).attr("x2",W).attr("y1",H-2).attr("y2",H-2).attr("stroke","#e3e6ee").attr("stroke-width",1.5);

// axes
function styleAxis(g,size){g.select(".domain").remove();g.selectAll("line").attr("stroke",AX).attr("shape-rendering","crispEdges");
  g.selectAll("text").attr("fill",TXT).attr("font-size",size).attr("font-family","Roboto,sans-serif");}
const axP=d3.axisRight(y).tickValues(priceTicks).tickFormat(fmt).tickSize(5).tickPadding(5);
svg.append("g").attr("transform",`translate(${axisX},0)`).call(axP).call(g=>styleAxis(g,12.5));
const axC=d3.axisRight(yc).tickValues(cciTicks).tickFormat(d=>(d<0?"\u2212":"")+Math.abs(d).toFixed(5)).tickSize(5).tickPadding(5);
svg.append("g").attr("transform",`translate(${axisX},0)`).call(axC).call(g=>styleAxis(g,12.5));
const axS=d3.axisRight(ys).tickValues(stochTicks).tickFormat(d=>d.toFixed(2)).tickSize(5).tickPadding(5);
svg.append("g").attr("transform",`translate(${axisX},0)`).call(axS).call(g=>styleAxis(g,12.5));
const axT=d3.axisBottom(x).tickValues(tickBars).tickFormat((d,i)=>tickLabels[i]).tickSize(5).tickPadding(3);
svg.append("g").attr("transform",`translate(0,${stochB-.5})`).call(axT).call(g=>{styleAxis(g,12.5);
  g.selectAll("text").attr("font-weight",function(){return boldTicks.includes(this.textContent)?"700":"400";});});

// OHLC legend
const leg=svg.append("text").attr("x",8).attr("y",21.5).attr("font-size",12.9).attr("style","white-space:pre");
const legParts=[["O","#5b5e69"],["1.19266  ","#4caf50"],["H","#5b5e69"],["1.19385  ","#4caf50"],["L","#5b5e69"],["1.19176  ","#4caf50"],["C","#5b5e69"],["1.19385  ","#4caf50"],["+0.00118 (+0.10%)","#4caf50"]];
leg.selectAll("tspan").data(legParts).join("tspan").attr("fill",d=>d[1]).text(d=>d[0]);

function legendBtn(bx,by,bw,bh,label,tx){
  svg.append("rect").attr("x",bx+.5).attr("y",by+.5).attr("width",bw).attr("height",bh).attr("rx",3).attr("fill","rgba(255,255,255,.85)").attr("stroke","#d6d8e0");
  const cy=by+bh/2;
  svg.append("path").attr("d",`M${bx+7} ${cy-2}L${bx+10.5} ${cy+1.5}L${bx+14} ${cy-2}`).attr("fill","none").attr("stroke","#333").attr("stroke-width",1.3);
  svg.append("text").attr("x",tx).attr("y",cy+4.5).attr("font-size",13).attr("fill","#333").text(label);
}
legendBtn(9,31,38,19,"14",30);
legendBtn(9,1144,30,20,"2",28);

// USD button
svg.append("rect").attr("x",2051.5).attr("y",7.5).attr("width",39).attr("height",17).attr("rx",3).attr("fill","#fff").attr("stroke","#d6d8e0");
svg.append("text").attr("x",2056).attr("y",20).attr("font-size",11.5).attr("fill","#50535e").text("USD");
svg.append("path").attr("d","M2081 14.5L2083.5 17L2086 14.5").attr("fill","none").attr("stroke","#50535e");

// last price tag
svg.append("rect").attr("x",axisX).attr("y",288).attr("width",63).attr("height",30).attr("rx",2).attr("fill","#ff0000");
svg.append("text").attr("x",2043).attr("y",301).attr("font-size",12.5).attr("font-weight","700").attr("fill","#fff").text(fmt(lastPrice));
svg.append("text").attr("x",2043).attr("y",314).attr("font-size",12.5).attr("fill","#fff").text("13:56:31");

// crosshair tag
const cy=y(crossPrice);
svg.append("rect").attr("x",2010).attr("y",cy-10).attr("width",80).attr("height",20).attr("rx",2).attr("fill","#131722");
svg.append("circle").attr("cx",2020).attr("cy",cy).attr("r",6.5).attr("fill","none").attr("stroke","#fff");
svg.append("path").attr("d",`M2016.5 ${cy}H2023.5M2020 ${cy-3.5}V${cy+3.5}`).attr("stroke","#fff");
svg.append("text").attr("x",2043).attr("y",cy+4.5).attr("font-size",12.5).attr("font-weight","500").attr("fill","#fff").text(fmt(crossPrice));

// date tooltip
svg.append("rect").attr("x",1961.5).attr("y",1180).attr("width",70.5).attr("height",23).attr("rx",2).attr("fill","#131722");
svg.append("text").attr("x",1997).attr("y",1196).attr("text-anchor","middle").attr("font-size",12.5).attr("fill","#fff").text("30 Aug '21");
svg.append("circle").attr("cx",2070).attr("cy",1195).attr("r",10).attr("fill","#f0f3fa");
svg.append("text").attr("x",2070).attr("y",1199.5).attr("text-anchor","middle").attr("font-size",12.5).attr("fill","#3d6db0").text("A");

// watermark
const wm=svg.append("g");
wm.append("circle").attr("cx",1974).attr("cy",1160).attr("r",22.5).attr("fill","url(#logoG)");
wm.append("path").attr("fill","#f8cb54").attr("d","M1961 1166c-4-12 6-22 17-21 11 0 16 11 12 19-4 8-14 10-19 4-3-5 1-10 6-9 3 1 4 4 2 6 3-1 4-5 1-8-5-4-13-1-14 6-1 4-3 5-5 3z");
wm.append("path").attr("fill","#f8cb54").attr("d","M1959 1176c8 2 20 1 29-8-2 7-6 14-14 16-6 0-11-3-15-8z");
wm.append("text").attr("x",2002).attr("y",1168).attr("font-size",31).attr("font-weight","700").attr("fill","#b3b3b3").attr("style","font-family:'Noto Sans CJK SC'").text("中金网");
wm.append("text").attr("x",2003).attr("y",1182).attr("font-size",11).attr("fill","#c4c4c4").attr("letter-spacing",".6").text("CNGOLD.COM.CN");
wm.append("text").attr("x",1955).attr("y",1195).attr("font-size",12.5).attr("fill","#9a9a9a").attr("style","font-family:'Noto Sans CJK SC'").attr("letter-spacing","8").text("中文财经新媒体");
</script></body></html>
